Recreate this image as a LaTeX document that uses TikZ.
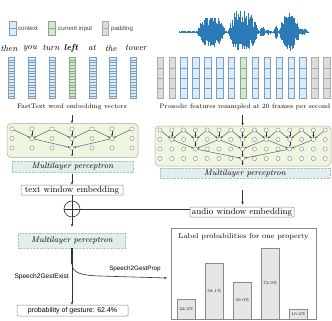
\documentclass[tikz,border=0pt]{standalone}
\usepackage{fontspec}
\setsansfont{Liberation Sans}
\usetikzlibrary{arrows.meta}
\definecolor{ctxfill}{HTML}{D8ECFB}
\definecolor{ctxdraw}{HTML}{7F9CB8}
\definecolor{curfill}{HTML}{D5E8D0}
\definecolor{curdraw}{HTML}{8AA888}
\definecolor{padfill}{HTML}{DCDCDC}
\definecolor{paddraw}{HTML}{ABABAB}
\definecolor{mlpfill}{HTML}{EFF6DF}
\definecolor{mlpdraw}{HTML}{A8AD9C}
\definecolor{lblfill}{HTML}{E2EEEC}
\definecolor{lbldraw}{HTML}{A8C4C0}
\definecolor{flowcol}{HTML}{333333}
\definecolor{neurdraw}{HTML}{858585}
\definecolor{bxdraw}{HTML}{8A8A8A}
\definecolor{barfill}{HTML}{E6E6E6}
\definecolor{wavecol}{HTML}{2A7AB8}
\newcommand{\stripecol}[5]{%
  \draw[#5] ({#1-3.2},#2) rectangle ({#1+3.2},#3);%
  \pgfmathtruncatemacro\stripen{#4-1}%
  \foreach \k in {1,...,\stripen}{\draw[#5] ({#1-3.2},{#2+\k*(#3-#2)/#4}) -- ({#1+3.2},{#2+\k*(#3-#2)/#4});}%
}
\begin{document}
\begin{tikzpicture}[x=1pt,y=-1pt,
  >={Stealth[length=3pt,width=2.4pt]},
  declare function={bmp(\t,\c,\w)=1-(min(abs(\t-\c),\w)/\w)^2;
                    lob(\t,\c,\w)=0.45*sqrt(bmp(\t,\c,\w))+0.55*bmp(\t,\c,\w);},
  ctx/.style={draw=ctxdraw,fill=ctxfill,line width=0.3pt},
  cur/.style={draw=curdraw,fill=curfill,line width=0.3pt},
  pad/.style={draw=paddraw,fill=padfill,line width=0.3pt},
  neuron/.style={circle,draw=neurdraw,fill=white,line width=0.4pt,minimum size=4.2pt,inner sep=0pt},
  conn/.style={->,draw=flowcol,line width=0.35pt,>={Stealth[length=2pt,width=1.8pt]}},
  mlpbox/.style={draw=mlpdraw,fill=mlpfill,rounded corners=4pt,line width=0.5pt,inner sep=0pt},
  mlplabel/.style={draw=lbldraw,densely dotted,fill=lblfill,inner sep=0pt,font=\fontsize{8.2}{9}\selectfont\itshape},
  embbox/.style={draw=bxdraw,fill=white,rounded corners=1pt,line width=0.5pt,inner sep=0pt,font=\fontsize{8.8}{10}\selectfont},
  flow/.style={->,draw=flowcol,line width=0.6pt},
  flowline/.style={draw=flowcol,line width=0.6pt},
  word/.style={inner sep=0pt,font=\fontsize{8.8}{10}\selectfont\itshape},
  legend/.style={anchor=west,inner sep=0pt,font=\fontsize{6.1}{7}\selectfont\sffamily,text=black!75},
  caption/.style={inner sep=0pt,font=\fontsize{6.5}{7.5}\selectfont},
  sanslabel/.style={inner sep=0pt,font=\fontsize{6.6}{8}\selectfont\sffamily},
  bar/.style={draw=bxdraw,fill=barfill,line width=0.5pt,inner sep=0pt,minimum width=18pt},
  barlabel/.style={inner sep=0pt,font=\fontsize{4}{5}\selectfont}
]
\useasboundingbox (0,0) rectangle (332,321);

% ---------------- legend ----------------
\stripecol{12.7}{21}{35}{2}{ctx}
\node[legend] (lgctx) at (18,28.5) {context};
\stripecol{51.7}{21}{35}{2}{cur}
\node[legend] (lgcur) at (58,28.5) {current input};
\stripecol{105.2}{21}{35}{2}{pad}
\node[legend] (lgpad) at (111,28.5) {padding};

% ---------------- words ----------------
\node[word] (w0) at (9,48) {then};
\node[word] (w1) at (30,48) {you};
\node[word] (w2) at (51,48) {turn};
\node[word] (w3) at (71,48) {\textbf{left}};
\node[word] (w4) at (92,48) {at};
\node[word] (w5) at (111,48) {the};
\node[word] (w6) at (136,48) {tower};

% text vectors
\foreach \i/\st in {0/ctx,1/ctx,2/ctx,3/cur,4/ctx,5/ctx,6/ctx}{
  \stripecol{11.3+20.3*\i}{57}{98.5}{15}{\st}
}

% audio vectors
\foreach \i/\st in {0/pad,1/pad,2/ctx,3/ctx,4/ctx,5/ctx,6/ctx,7/cur,8/ctx,9/ctx,10/ctx,11/ctx,12/ctx,13/pad,14/pad}{
  \stripecol{160+11.9*\i}{57.5}{98.5}{4}{\st}
}

% waveform
\pgfmathsetseed{11}
\foreach \x in {179,179.4,...,308}{
  \pgfmathsetmacro\env{0.7+16*lob(\x,211,14)+21*lob(\x,243,15)+4*bmp(\x,236,4)+5*bmp(\x,262,3)+2*bmp(\x,268,3)+7*bmp(\x,276,2)+19*lob(\x,289,10)+3*bmp(\x,302,6)}
  \pgfmathsetmacro\up{\env*(0.3+0.7*rnd)}
  \pgfmathsetmacro\dn{\env*(0.3+0.65*rnd)}
  \draw[wavecol,line width=0.55pt] (\x,{32-\up}) -- (\x,{32+\dn});
}

% captions
\node[caption] (ft) at (72,107) {FastText word embedding vectors};
\node[caption] (pf) at (245,107) {Prosodic features resampled at 20 frames per second};

% ---------------- left MLP ----------------
\node[mlpbox,minimum width=131pt,minimum height=34pt] (lbox) at (72.5,140.5) {};
\foreach \y [count=\r] in {129,138.5,148}{
  \foreach \c in {1,...,7}{
    \node[neuron] (L-\r-\c) at ({12+20*(\c-1)},\y) {};
  }
}
\foreach \t in {2,4,6}{
  \foreach \s in {-1,0,1}{
    \pgfmathtruncatemacro\src{\t+\s}
    \draw[conn] (L-1-\src) -- (L-2-\t);
  }
}
\foreach \s in {2,4,6}{\draw[conn] (L-2-\s) -- (L-3-4);}
\draw[conn,shorten >=1.5pt] (L-3-4) -- (L-3-4 |- lbox.south);
\node[mlplabel,minimum width=121pt,minimum height=11pt] (lmlp) at (72.5,166.5) {Multilayer perceptron};

% ---------------- right MLP ----------------
\node[mlpbox,minimum width=176pt,minimum height=40pt] (rbox) at (243,146) {};
\foreach \y [count=\r] in {130,139.5,149,158.5}{
  \foreach \c in {1,...,15}{
    \node[neuron] (R-\r-\c) at ({160+11.8*(\c-1)},\y) {};
  }
}
\foreach \t in {2,4,...,14}{
  \foreach \s in {-1,0,1}{
    \pgfmathtruncatemacro\src{\t+\s}
    \draw[conn] (R-1-\src) -- (R-2-\t);
  }
}
\foreach \t in {4,8,12}{
  \foreach \s in {-2,0,2}{
    \pgfmathtruncatemacro\src{\t+\s}
    \draw[conn] (R-2-\src) -- (R-3-\t);
  }
}
\foreach \s in {4,8,12}{\draw[conn] (R-3-\s) -- (R-4-8);}
\draw[conn,shorten >=1pt] (R-4-8) -- (R-4-8 |- rbox.south);
\node[mlplabel,minimum width=170pt,minimum height=10pt] (rmlp) at (245,173) {Multilayer perceptron};

% input arrows
\draw[flow,shorten <=5pt] (ft.south -| L-1-4) -- (L-1-4 |- lbox.north);
\draw[flow,shorten <=5pt] (pf.south -| R-1-8) -- (R-1-8 |- rbox.north);

% ---------------- embeddings ----------------
\node[embbox,minimum width=102pt,minimum height=10pt] (twe) at (72,190) {text window embedding};
\node[embbox,minimum width=104pt,minimum height=10pt] (awe) at (242,212) {audio window embedding};
\draw[flow,shorten <=2pt] (lmlp.south -| twe) -- (twe.north);
\draw[flow,shorten <=12pt,shorten >=2pt] (R-4-8 |- rmlp.south) -- (R-4-8 |- awe.north);

\node[circle,draw=flowcol,line width=0.6pt,minimum size=16pt,inner sep=0pt,
  path picture={\draw[flowcol,line width=0.5pt] (path picture bounding box.north) -- (path picture bounding box.south)
  (path picture bounding box.west) -- (path picture bounding box.east);}] (plus) at (72,209) {};
\draw[flowline] (twe.south -| plus) -- (plus.north);
\draw[flowline] (plus.east) -- (plus.east -| awe.west);

% ---------------- final MLP and outputs ----------------
\node[mlplabel,minimum width=107pt,minimum height=15pt] (mlp2) at (72,240.5) {Multilayer perceptron};
\draw[flow,shorten >=6pt] (plus.south) -- (mlp2.north -| plus);

\coordinate (fork) at (72,264);
\coordinate (propend) at (167,278);
\draw[draw=flowcol,line width=1.1pt] (mlp2.south -| fork) -- (fork);

\node[embbox,font=\fontsize{7}{8}\selectfont\sffamily,minimum width=111pt,minimum height=11pt] (prob) at (72.5,310.5) {probability of gesture: 62.4\%};
\draw[flow] (fork) -- (fork |- prob.north);
\draw[flow] (fork) .. controls (72,273) and (82,275.5) .. (100,276) -- (propend);

\node[sanslabel,anchor=east] (exist) at (69,277) {Speech2GestExist};
\node[sanslabel,font=\fontsize{6.3}{7}\selectfont\sffamily] (prop) at (135,269) {Speech2GestProp};

% ---------------- bar chart ----------------
\node[draw=bxdraw,line width=0.5pt,minimum width=145pt,minimum height=91pt,inner sep=0pt] (chart) at (243.5,273.5) {};
\node[inner sep=0pt,font=\fontsize{7.3}{8}\selectfont] (title) at (243.5,237) {Label probabilities for one property};
\foreach \h/\lab [count=\i] in {20/22.2\%,56/58.1\%,37/39.0\%,71/72.9\%,10/10.4\%}{
  \node[bar,minimum height=\h pt,anchor=south] (bar\i) at ({186.5+28*(\i-1)},319) {};
  \node[barlabel] (bl\i) at (bar\i.center) {\lab};
}
\end{tikzpicture}
\end{document}
